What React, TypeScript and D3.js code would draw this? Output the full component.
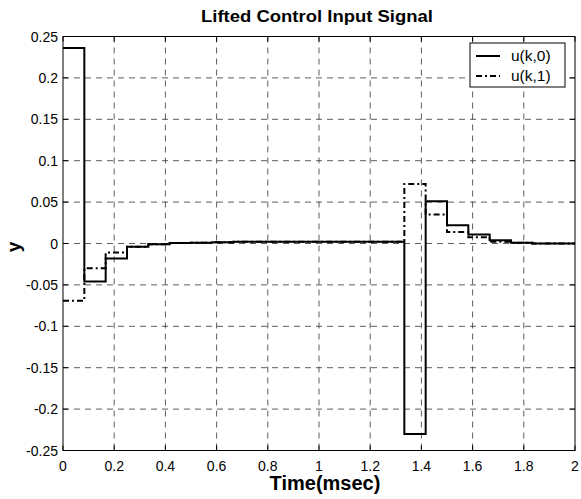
import React from "react";
import * as d3 from "d3";

const PERIOD = 1 / 12;
const u0: number[] = [0.236, -0.046, -0.018, -0.004, -0.001, 0.0005, 0.001, 0.0015, 0.002, 0.002, 0.002, 0.002, 0.002, 0.002, 0.002, 0.002, -0.23, 0.051, 0.022, 0.011, 0.004, 0.001, 0.0, 0.0];
const u1: number[] = [-0.069, -0.03, -0.011, -0.004, -0.001, 0.0005, 0.001, 0.0015, 0.002, 0.002, 0.002, 0.002, 0.002, 0.002, 0.002, 0.002, 0.072, 0.035, 0.014, 0.0075, 0.002, 0.001, 0.0, 0.0];
const xTicks: number[] = [0, 0.2, 0.4, 0.6, 0.8, 1, 1.2, 1.4, 1.6, 1.8, 2];
const yTicks: number[] = [-0.25, -0.2, -0.15, -0.1, -0.05, 0, 0.05, 0.1, 0.15, 0.2, 0.25];
const legendLabels: string[] = ["u(k,0)", "u(k,1)"];

const W = 581, H = 499;
const L = 63, R = 575, T = 36.5, B = 450.5;
const FONT = "'Liberation Sans', Arial, sans-serif";

export default function App() {
  const x = d3.scaleLinear().domain([0, 2]).range([L, R]);
  const y = d3.scaleLinear().domain([-0.25, 0.25]).range([B, T]);
  const line = d3.line<[number, number]>().x(d => x(d[0])).y(d => y(d[1])).curve(d3.curveStepAfter);
  const pts = (arr: number[]): [number, number][] => {
    const p: [number, number][] = arr.map((v, i) => [i * PERIOD, v]);
    p.push([2, arr[arr.length - 1]]);
    return p;
  };
  const fmt = (v: number) => String(v);
  const tick = 5;
  return (
    <svg width={W} height={H} style={{ position: "absolute", left: 0, top: 0, background: "#fff" }} fontFamily={FONT}>
      <rect x={0} y={0} width={W} height={H} fill="#fff" />
      {xTicks.slice(1, -1).map(t => (
        <line key={"gx" + t} x1={x(t)} x2={x(t)} y1={T} y2={B} stroke="#333" strokeWidth={0.8} strokeDasharray="6,5" />
      ))}
      {yTicks.slice(1, -1).map(t => (
        <line key={"gy" + t} x1={L} x2={R} y1={y(t)} y2={y(t)} stroke="#333" strokeWidth={0.8} strokeDasharray="6,5" />
      ))}
      {xTicks.map(t => (
        <g key={"tx" + t}>
          <line x1={x(t)} x2={x(t)} y1={B} y2={B - tick} stroke="#000" />
          <line x1={x(t)} x2={x(t)} y1={T} y2={T + tick} stroke="#000" />
          <text x={x(t)} y={B + 20} fontSize={14} textAnchor="middle">{fmt(t)}</text>
        </g>
      ))}
      {yTicks.map(t => (
        <g key={"ty" + t}>
          <line x1={L} x2={L + tick} y1={y(t)} y2={y(t)} stroke="#000" />
          <line x1={R} x2={R - tick} y1={y(t)} y2={y(t)} stroke="#000" />
          <text x={L - 5} y={y(t) + 5} fontSize={14} textAnchor="end">{fmt(t)}</text>
        </g>
      ))}
      <path d={line(pts(u1)) || ""} fill="none" stroke="#000" strokeWidth={2} strokeDasharray="6,3,2,3" />
      <path d={line(pts(u0)) || ""} fill="none" stroke="#000" strokeWidth={2} />
      <rect x={L} y={T} width={R - L} height={B - T} fill="none" stroke="#000" strokeWidth={1} />
      <g>
        <rect x={470} y={43} width={95} height={44} fill="#fff" stroke="#000" strokeWidth={1} />
        {legendLabels.map((lab, i) => (
          <g key={lab}>
            <line x1={476} x2={500} y1={56 + i * 20} y2={56 + i * 20} stroke="#000" strokeWidth={2} strokeDasharray={i === 0 ? undefined : "6,3,2,3"} />
            <text x={511} y={61 + i * 20} fontSize={15.5}>{lab}</text>
          </g>
        ))}
      </g>
      <text x={317} y={21.5} fontSize={17} fontWeight="bold" textAnchor="middle" textLength={232} lengthAdjust="spacingAndGlyphs">Lifted Control Input Signal</text>
      <text x={325} y={490} fontSize={20} fontWeight="bold" textAnchor="middle">Time(msec)</text>
      <text x={20} y={247} fontSize={19} fontWeight="bold" textAnchor="middle" transform="rotate(-90, 20, 247)">y</text>
    </svg>
  );
}
